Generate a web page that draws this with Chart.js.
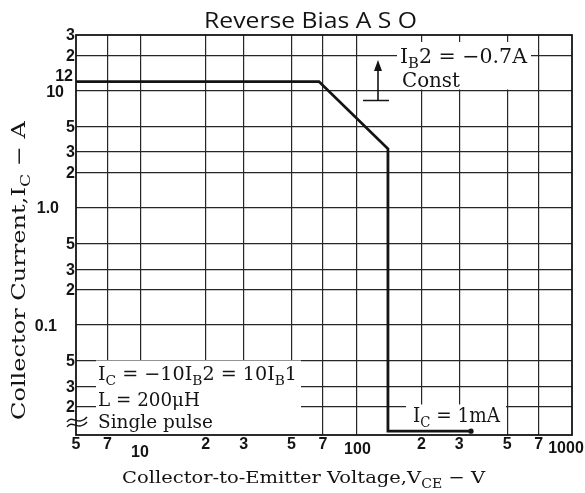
<!DOCTYPE html>
<html>
<head>
<meta charset="utf-8">
<script src="https://cdn.jsdelivr.net/npm/chart.js@4.4.1/dist/chart.umd.min.js"></script>
<style>
  html, body { margin: 0; padding: 0; background: #ffffff; }
  canvas { display: block; }
</style>
</head>
<body>
<canvas id="c" width="585" height="493"></canvas>
<script>
// ---------------- data ----------------
const chartTitle = 'Reverse Bias A S O';
const voltageV   = [5, 67, 140, 140, 340];        // V_CE (V)
const currentA   = [12, 12, 3.2, 0.001, 0.001];   // I_C (A); 1 mA lies below the axis break
const xTickValues = [5, 7, 10, 20, 30, 50, 70, 100, 200, 300, 500, 700, 1000];
const xTickLabels = ['5', '7', '10', '2', '3', '5', '7', '100', '2', '3', '5', '7', '1000'];
const yTickValues = [0.02, 0.03, 0.05, 0.1, 0.2, 0.3, 0.5, 1, 2, 3, 5, 10, 12, 20, 30];
const yTickLabels = ['2', '3', '5', '0.1', '2', '3', '5', '1.0', '2', '3', '5', '10', '12', '2', '3'];
const yGridValues = [0.02, 0.03, 0.05, 0.1, 0.2, 0.3, 0.5, 1, 2, 3, 5, 10, 20];
const xGridValues = [7, 10, 20, 30, 50, 70, 100, 200, 300, 500, 700];

// axis range and break
const X_MIN = 5, X_MAX = 1000;
const Y_MIN = 0.0115, Y_MAX = 30;
const Y_BREAK_SHOW = 0.0124;   // where values below the axis break are drawn

const plotted = voltageV.map((v, i) => ({ x: v, y: currentA[i] < Y_MIN ? Y_BREAK_SHOW : currentA[i] }));

// ---------------- styles ----------------
const INK = '#141414';
const SERIF = '"DejaVu Serif", "Liberation Serif", serif';
const TICKFONT = 'bold 16px "Liberation Sans", Arial, sans-serif';
const yLabelStyle = { '0.1': { right: 57, dy: 1 }, '1.0': { right: 59, dy: 0 }, '10': { right: 64, dy: 1 }, '12': { right: 73, dy: -6 } };
const xLabelStyle = { '10': { dx: -1, dy: 18 }, '100': { dx: 1, dy: 15 }, '1000': { dx: -6, dy: 14 } };

function drawRich(ctx, parts, x, y, size, targetW, opts = {}) {
  ctx.save();
  ctx.textBaseline = 'alphabetic';
  ctx.textAlign = 'left';
  let total = 0;
  const widths = parts.map(p => {
    ctx.font = (p[1] ? (size * 0.72) : size) + 'px ' + (opts.family || SERIF);
    const w = ctx.measureText(p[0]).width;
    total += w;
    return w;
  });
  const sx = targetW ? targetW / total : 1;
  ctx.translate(x, y);
  if (opts.rotate) ctx.rotate(opts.rotate);
  ctx.scale(sx, 1);
  ctx.fillStyle = INK;
  let cx = 0;
  parts.forEach((p, i) => {
    ctx.font = (p[1] ? (size * 0.72) : size) + 'px ' + (opts.family || SERIF);
    ctx.fillText(p[0], cx, p[1] ? size * 0.27 : 0);
    cx += widths[i];
  });
  ctx.restore();
}

const decor = {
  id: 'decor',
  beforeDatasetsDraw(chart) {
    const ctx = chart.ctx;
    ctx.save();
    ctx.fillStyle = '#ffffff';
    // blank areas behind annotation texts
    ctx.fillRect(397, 42, 134, 47.5);
    ctx.fillRect(96, 360.5, 205, 74);
    ctx.fillRect(406, 404.5, 100, 30);
    ctx.restore();
  },
  afterDatasetsDraw(chart) {
    const ctx = chart.ctx;
    const a = chart.chartArea;
    const xs = chart.scales.x, ys = chart.scales.y;
    ctx.save();
    // frame
    ctx.strokeStyle = INK;
    ctx.lineWidth = 1.8;
    ctx.strokeRect(a.left, a.top, a.right - a.left, a.bottom - a.top);

    // y tick labels
    ctx.font = TICKFONT;
    ctx.fillStyle = INK;
    ctx.textAlign = 'right';
    ctx.textBaseline = 'middle';
    yTickValues.forEach((v, i) => {
      const lab = yTickLabels[i];
      const st = (i === 3 || i === 7 || i === 11 || i === 12) ? yLabelStyle[lab] : { right: 75, dy: 0 };
      ctx.fillText(lab, st.right, ys.getPixelForValue(v) + st.dy + 1);
    });
    // x tick labels
    ctx.textAlign = 'center';
    xTickValues.forEach((v, i) => {
      const lab = xTickLabels[i];
      const st = xLabelStyle[lab] || { dx: 0, dy: 10 };
      ctx.fillText(lab, xs.getPixelForValue(v) + st.dx, a.bottom + st.dy);
    });

    // axis break mark
    ctx.strokeStyle = INK;
    ctx.lineWidth = 1.4;
    [0, 5].forEach(o => {
      ctx.beginPath();
      ctx.moveTo(67, 422 + o);
      ctx.bezierCurveTo(72, 414 + o, 79, 427 + o, 87, 417 + o);
      ctx.stroke();
    });

    // arrow "I_B2 const"
    ctx.lineWidth = 1.6;
    ctx.beginPath();
    ctx.moveTo(378, 100); ctx.lineTo(378, 68);
    ctx.moveTo(363, 100.5); ctx.lineTo(389, 100.5);
    ctx.stroke();
    ctx.beginPath();
    ctx.moveTo(378, 60); ctx.lineTo(374, 71); ctx.lineTo(382, 71); ctx.closePath();
    ctx.fillStyle = INK;
    ctx.fill();
    ctx.restore();

    // title
    drawRich(ctx, [[chartTitle, false]], 204, 28.3, 22, 213, { family: '"Open Sans", "Noto Sans", sans-serif' });
    // axis titles
    drawRich(ctx, [['Collector-to-Emitter Voltage,V', false], ['CE', true], [' \u2212 V', false]], 122, 483, 17, 363);
    drawRich(ctx, [['Collector Current,I', false], ['C', true], [' \u2212 A', false]], 25, 420, 18.5, 299, { rotate: -Math.PI / 2 });
    // annotations
    drawRich(ctx, [['I', false], ['B', true], ['2 = \u22120.7A', false]], 400, 63, 20, 127);
    drawRich(ctx, [['Const', false]], 402, 87, 20, 58);
    drawRich(ctx, [['I', false], ['C', true], [' = \u221210I', false], ['B', true], ['2 = 10I', false], ['B', true], ['1', false]], 98, 380, 19, 199);
    drawRich(ctx, [['L = 200\u03bcH', false]], 98, 406, 19, 102);
    drawRich(ctx, [['Single pulse', false]], 98, 428, 19, 115);
    drawRich(ctx, [['I', false], ['C', true], [' = 1mA', false]], 413, 421.5, 20, 87);
  }
};

const gridStyle = { drawTicks: false, color: '#262626', lineWidth: 1.2 };

new Chart(document.getElementById('c'), {
  type: 'scatter',
  data: {
    datasets: [{
      data: plotted,
      showLine: true,
      borderColor: INK,
      borderWidth: 2.8,
      pointRadius: [0, 0, 0, 0, 2.6],
      pointBackgroundColor: INK,
      pointBorderWidth: 0,
      tension: 0,
      clip: false
    }]
  },
  options: {
    responsive: false,
    animation: false,
    devicePixelRatio: 1,
    layout: { padding: { left: 76, right: 13, top: 35, bottom: 58 } },
    plugins: { legend: { display: false }, tooltip: { enabled: false }, title: { display: false } },
    scales: {
      x: {
        type: 'logarithmic', min: X_MIN, max: X_MAX,
        ticks: { display: false },
        grid: gridStyle,
        border: { display: false },
        afterBuildTicks: s => { s.ticks = xGridValues.map(v => ({ value: v })); }
      },
      y: {
        type: 'logarithmic', min: Y_MIN, max: Y_MAX,
        ticks: { display: false },
        grid: gridStyle,
        border: { display: false },
        afterBuildTicks: s => { s.ticks = yGridValues.map(v => ({ value: v })); }
      }
    }
  },
  plugins: [decor]
});
</script>
</body>
</html>
